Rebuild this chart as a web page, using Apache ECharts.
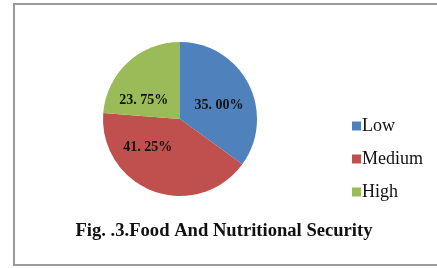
<!DOCTYPE html>
<html>
<head>
<meta charset="utf-8">
<script src="https://cdn.jsdelivr.net/npm/echarts@6/dist/echarts.min.js"></script>
<style>
html,body{margin:0;padding:0;background:#fff;}
#c{width:437px;height:268px;}
</style>
</head>
<body>
<div id="c"></div>
<script>
var categories = ["Low", "Medium", "High"];
var values = [35.00, 41.25, 23.75];
var labelTexts = ["35. 00%", "41. 25%", "23. 75%"];
var titleText = "Fig. .3.Food And Nutritional Security";

var colors = ["#4F81BD", "#C0504D", "#9BBB59"];
var labelOffsets = { "Low": [2, 5], "Medium": [-18, -11], "High": [-8, 12] };

var chart = echarts.init(document.getElementById('c'), null, {renderer: 'canvas'});
var data = categories.map(function (c, i) {
  return {
    name: c,
    value: values[i],
    itemStyle: { color: colors[i] },
    label: { offset: labelOffsets[c] }
  };
});
chart.setOption({
  animation: false,
  backgroundColor: '#ffffff',
  graphic: [{
    type: 'rect',
    shape: { x: 14, y: 4, width: 440, height: 261 },
    style: { fill: 'none', stroke: '#9a9a9a', lineWidth: 2 },
    silent: true
  }],
  title: {
    text: titleText,
    left: 219, top: 217, textAlign: 'center',
    textStyle: { fontFamily: 'Liberation Serif', fontWeight: 'bold', fontSize: 18.6, color: '#111' }
  },
  legend: {
    orient: 'vertical',
    left: 347, top: 112,
    itemWidth: 9, itemHeight: 9, itemGap: 15,
    icon: 'rect',
    data: categories,
    textStyle: { fontFamily: 'Liberation Serif', fontSize: 18, color: '#111', padding: [0, 0, 0, -4] }
  },
  series: [{
    type: 'pie',
    center: [180, 119],
    radius: 77,
    startAngle: 90,
    clockwise: true,
    data: data,
    itemStyle: { borderWidth: 0 },
    label: {
      show: true,
      position: 'inside',
      formatter: function (p) { return labelTexts[p.dataIndex]; },
      fontFamily: 'Liberation Serif', fontWeight: 'bold', fontSize: 14, color: '#111'
    },
    labelLine: { show: false },
    emphasis: { disabled: true }
  }]
});
</script>
</body>
</html>
